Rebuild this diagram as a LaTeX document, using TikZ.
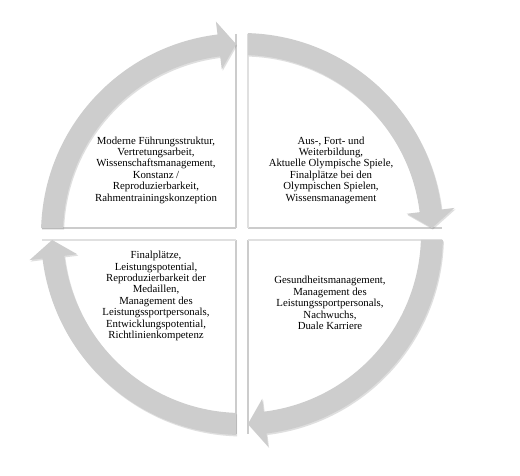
\documentclass[tikz,border=0pt]{standalone}
\usepackage{fontspec}
\setmainfont{Liberation Serif}
\usetikzlibrary{shadows}
\definecolor{arrgray}{HTML}{CDCDCD}
\begin{document}
\begin{tikzpicture}[x=1pt,y=1pt,
  arr/.style={fill=arrgray, draw=none, drop shadow={shadow xshift=1pt, shadow yshift=-1.5pt, opacity=0.25}},
  sep/.style={draw=black!20, line width=1.6pt},
  sepl/.style={draw=black!12, line width=1.2pt},
  txt/.style={align=center, font=\fontsize{10.8}{11.4}\selectfont, text=black, inner sep=0pt}]
\useasboundingbox[fill=white] (0,0) rectangle (520,475);
\coordinate (c) at (242,241);
% quadrant edges
\draw[sep] (236,441) -- (236,247);
\draw[sep] (42,247) -- (236,247);
\draw[sep] (248,247) -- (442,247);
\draw[sepl] (248,441) -- (248,247);
\draw[sep] (236,235) -- (236,41);
\draw[sep] (248,235) -- (248,41);
\draw[sepl] (42,235) -- (236,235);
\draw[sepl] (248,235) -- (442,235);
% arrows
\foreach \r in {0,-90,-180,-270} {
  \pgfmathsetmacro{\ao}{178.3+\r}
  \pgfmathsetmacro{\ai}{178.1+\r}
  \pgfmathsetmacro{\ab}{97+\r}
  \pgfmathsetmacro{\at}{91.8+\r}
  \path[arr, shift={(c)}] (\ao:201) arc[start angle=\ao, end angle=\ab, radius=201]
     -- (\ab:214) -- (\at:190) -- (\ab:166) -- (\ab:179)
     arc[start angle=\ab, end angle=\ai, radius=179] -- cycle;
}
% texts
\node[txt] (tl) at (156,305) {Moderne Führungsstruktur,\\Vertretungsarbeit,\\Wissenschaftsmanagement,\\Konstanz /\\Reproduzierbarkeit,\\Rahmentrainingskonzeption};
\node[txt] (tr) at (331,305) {Aus-, Fort- und\\Weiterbildung,\\Aktuelle Olympische Spiele,\\Finalplätze bei den\\Olympischen Spielen,\\Wissensmanagement};
\node[txt] (bl) at (156,179) {Finalplätze,\\Leistungspotential,\\Reproduzierbarkeit der\\Medaillen,\\Management des\\Leistungssportpersonals,\\Entwicklungspotential,\\Richtlinienkompetenz};
\node[txt] (br) at (330,172) {Gesundheitsmanagement,\\Management des\\Leistungssportpersonals,\\Nachwuchs,\\Duale Karriere};
\end{tikzpicture}
\end{document}
